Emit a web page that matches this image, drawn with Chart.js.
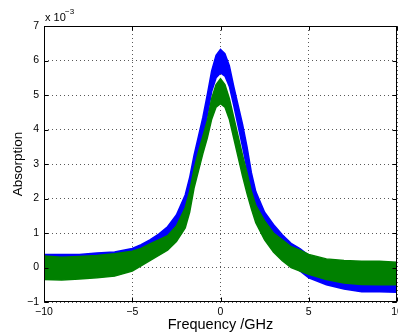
<!DOCTYPE html>
<html>
<head>
<meta charset="utf-8">
<script src="https://cdn.jsdelivr.net/npm/chart.js@4.4.0/dist/chart.umd.min.js"></script>
<style>
html, body { margin: 0; padding: 0; background: #fff; overflow: hidden; }
#wrap { width: 398px; height: 334px; overflow: hidden; }
</style>
</head>
<body>
<div id="wrap"><canvas id="absChart" width="420" height="334"></canvas></div>
<script>
// frequency grid (GHz) and noise envelopes, in units of 1e-3
const freq = [-10, -9, -8, -7, -6, -5, -4.5, -4, -3.5, -3, -2.5, -2, -1.75, -1.5, -1.25, -1, -0.75, -0.5, -0.25, 0,
              0.25, 0.5, 0.75, 1, 1.25, 1.5, 1.75, 2, 2.5, 3, 3.5, 4, 4.5, 5, 6, 7, 8, 9, 10];

const blueHi = [0.38, 0.38, 0.38, 0.42, 0.45, 0.55, 0.66, 0.8, 0.97, 1.18, 1.52, 2.1, 2.6, 3.25, 3.8, 4.35, 5.0, 5.7, 6.15, 6.32,
                6.2, 5.85, 5.25, 4.7, 4.15, 3.5, 2.75, 2.2, 1.6, 1.25, 0.95, 0.7, 0.55, 0.35, 0.05, -0.05, -0.1, -0.1, -0.1];
const blueLo = [-0.29, -0.3, -0.3, -0.26, -0.2, -0.05, 0.08, 0.25, 0.42, 0.6, 0.95, 1.45, 1.95, 2.6, 3.15, 3.7, 4.4, 5.1, 5.5, 5.64,
                5.55, 5.25, 4.7, 4.1, 3.5, 2.85, 2.15, 1.6, 1.05, 0.65, 0.35, 0.1, -0.1, -0.3, -0.5, -0.62, -0.7, -0.7, -0.72];

const greenHi = [0.33, 0.3, 0.32, 0.35, 0.4, 0.47, 0.55, 0.68, 0.8, 0.92, 1.2, 1.73, 2.2, 2.84, 3.35, 3.8, 4.25, 4.9, 5.3, 5.47,
                 5.3, 4.9, 4.35, 3.8, 3.25, 2.75, 2.2, 1.8, 1.35, 1.0, 0.8, 0.6, 0.5, 0.38, 0.25, 0.2, 0.18, 0.18, 0.15];
const greenLo = [-0.35, -0.36, -0.33, -0.3, -0.25, -0.1, 0.05, 0.2, 0.35, 0.5, 0.75, 1.15, 1.6, 2.3, 2.8, 3.3, 3.75, 4.3, 4.65, 4.75,
                 4.65, 4.3, 3.75, 3.2, 2.65, 2.15, 1.7, 1.3, 0.8, 0.45, 0.2, 0.0, -0.1, -0.2, -0.35, -0.45, -0.49, -0.5, -0.5];

const xTicks = [-10, -5, 0, 5, 10];
const yTicks = [-1, 0, 1, 2, 3, 4, 5, 6, 7];

const font = '"Liberation Sans", Arial, Helvetica, sans-serif';

function pts(ys) {
    return freq.map((f, i) => ({ x: f, y: ys[i] }));
}

function band(ys, color, fill) {
    return {
        data: pts(ys),
        borderColor: color,
        backgroundColor: color,
        borderWidth: 1.5,
        pointRadius: 0,
        tension: 0,
        fill: fill
    };
}

// box, inward tick marks and the exponent label, like a matlab axes
const matlabBox = {
    id: 'matlabBox',
    afterDraw(chart) {
        const ctx = chart.ctx;
        const a = chart.chartArea;
        const xs = chart.scales.x, ys = chart.scales.y;
        const L = Math.round(a.left) + 0.5, R = Math.round(a.right) - 0.5;
        const T = Math.round(a.top) + 0.5, B = Math.round(a.bottom) - 0.5;
        ctx.save();
        ctx.strokeStyle = '#000';
        ctx.lineWidth = 1;
        ctx.beginPath();
        xTicks.forEach(v => {
            const px = Math.round(xs.getPixelForValue(v)) + 0.5;
            ctx.moveTo(px, B); ctx.lineTo(px, B - 4);
            ctx.moveTo(px, T); ctx.lineTo(px, T + 4);
        });
        yTicks.forEach(v => {
            const py = Math.round(ys.getPixelForValue(v)) + 0.5;
            ctx.moveTo(L, py); ctx.lineTo(L + 4, py);
            ctx.moveTo(R, py); ctx.lineTo(R - 4, py);
        });
        ctx.stroke();
        ctx.strokeRect(L, T, R - L, B - T);

        ctx.fillStyle = '#000';
        ctx.textBaseline = 'alphabetic';
        ctx.font = '11px ' + font;
        ctx.fillText('x 10', 45, 21);
        ctx.font = '8px ' + font;
        ctx.fillText('\u22123', 65, 14);
        ctx.restore();
    }
};

const config = {
    type: 'line',
    data: {
        datasets: [
            band(greenHi, '#008000', false),
            band(greenLo, '#008000', '-1'),
            band(blueHi, '#0000ff', false),
            band(blueLo, '#0000ff', '-1')
        ]
    },
    options: {
        responsive: false,
        animation: false,
        layout: { padding: { top: 26, right: 23, left: 0, bottom: 0 } },
        plugins: { legend: { display: false }, tooltip: { enabled: false } },
        scales: {
            x: {
                type: 'linear',
                min: -10, max: 10,
                afterFit(s) { s.height = 32; },
                afterBuildTicks(s) { s.ticks = xTicks.map(v => ({ value: v })); },
                grid: { color: 'rgba(0,0,0,0.65)', drawTicks: false },
                border: { display: false, dash: [1, 3] },
                ticks: {
                    color: '#000', padding: 4,
                    font: { family: font, size: 10.5 },
                    maxRotation: 0,
                    callback: v => String(v).replace('-', '\u2212')
                },
                title: {
                    display: true, text: 'Frequency /GHz', color: '#000',
                    font: { family: font, size: 14.5 },
                    padding: { top: 0, bottom: 0 }
                }
            },
            y: {
                min: -1, max: 7,
                afterFit(s) { s.width = 44; },
                afterBuildTicks(s) { s.ticks = yTicks.map(v => ({ value: v })); },
                grid: { color: 'rgba(0,0,0,0.65)', drawTicks: false },
                border: { display: false, dash: [1, 3] },
                ticks: {
                    color: '#000', padding: 5,
                    font: { family: font, size: 10.5 },
                    callback: v => String(v).replace('-', '\u2212')
                },
                title: {
                    display: true, text: 'Absorption', color: '#000',
                    font: { family: font, size: 13.5 },
                    padding: { top: 10, bottom: 0 }
                }
            }
        }
    },
    plugins: [matlabBox]
};

new Chart(document.getElementById('absChart').getContext('2d'), config);
</script>
</body>
</html>
